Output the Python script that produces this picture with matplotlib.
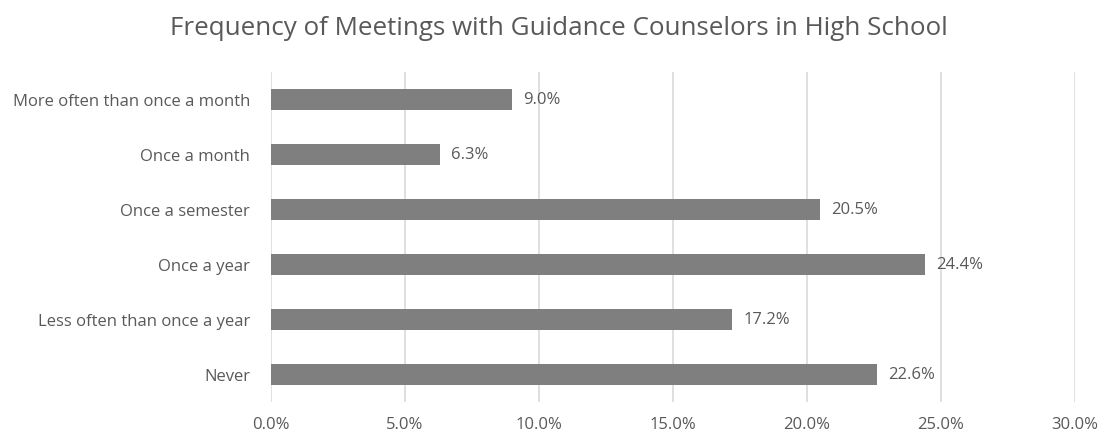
import matplotlib
matplotlib.use('Agg')
import matplotlib.pyplot as plt
from matplotlib.ticker import FuncFormatter

# Data
categories = ['More often than once a month', 'Once a month', 'Once a semester',
              'Once a year', 'Less often than once a year', 'Never']
values = [9.0, 6.3, 20.5, 24.4, 17.2, 22.6]
x_ticks = [0, 5, 10, 15, 20, 25, 30]

title = 'Frequency of Meetings with Guidance Counselors in High School'
text_color = '#595959'
bar_color = '#7f7f7f'
grid_color = '#d9d9d9'

plt.rcParams['font.family'] = ['Open Sans', 'DejaVu Sans']

fig = plt.figure(figsize=(11.01, 4.37), dpi=100)
ax = fig.add_axes([0.2461, 0.080, 0.7303, 0.755])

ypos = list(range(len(categories)))
ax.barh(ypos, values, height=0.38, color=bar_color, zorder=3)
ax.set_ylim(len(categories) - 0.5, -0.5)
ax.set_yticks(ypos)
ax.set_yticklabels(categories)

ax.set_xlim(0, 30)
ax.set_xticks(x_ticks)
ax.xaxis.set_major_formatter(FuncFormatter(lambda v, p: f'{v:.1f}%'))
ax.grid(axis='x', color=grid_color, linewidth=1.2, zorder=0)

for s in ax.spines.values():
    s.set_visible(False)
ax.tick_params(axis='both', length=0, colors=text_color, labelsize=12)
ax.tick_params(axis='y', pad=15)
ax.tick_params(axis='x', pad=11)

for y, v in zip(ypos, values):
    ax.annotate(f'{v:.1f}%', (v, y), xytext=(8, 0), textcoords='offset points',
                va='center', ha='left', fontsize=12, color=text_color)

fig.text(0.508, 0.935, title, ha='center', va='center', fontsize=18.7, color=text_color)

fig.savefig('out.png', dpi=100)
